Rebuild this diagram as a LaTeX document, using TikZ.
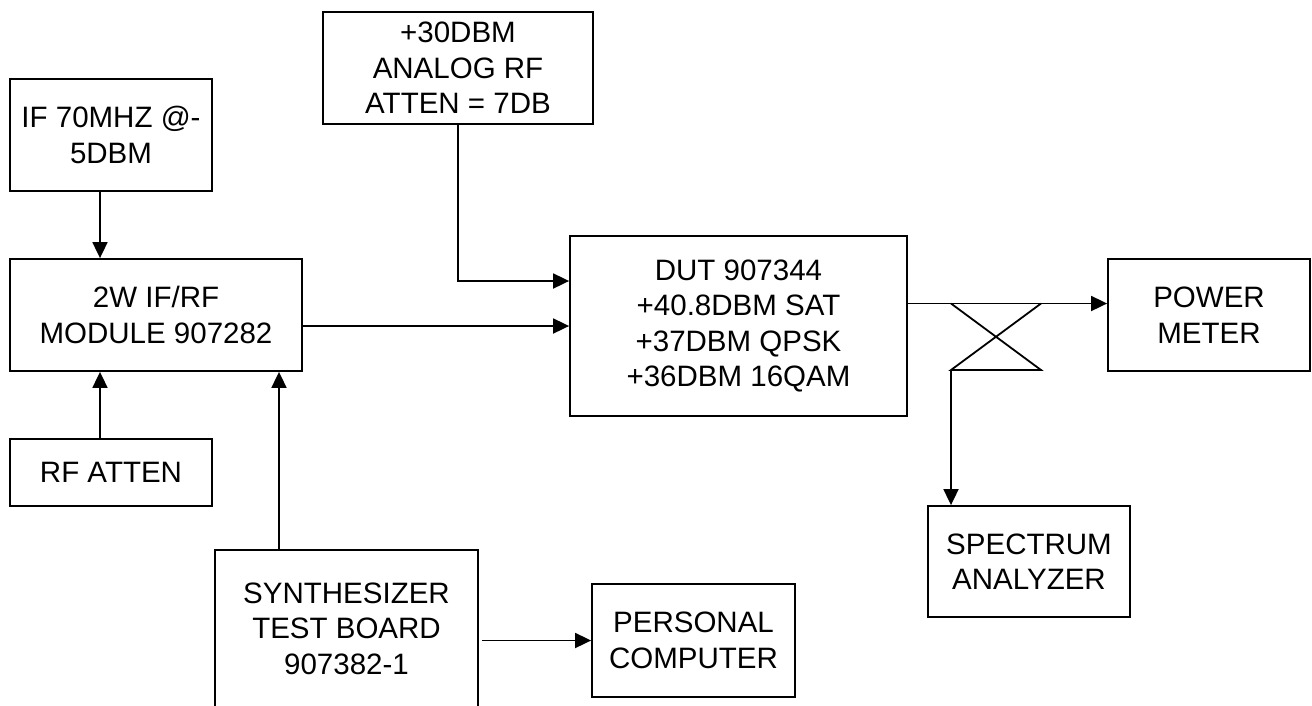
\documentclass[tikz,border=0pt]{standalone}
\usepackage{fontspec}
\setmainfont{Liberation Sans}
\usetikzlibrary{arrows.meta}
\tikzset{
  blk/.style={draw=black, line width=1.8pt, inner sep=0pt, align=center,
    font=\fontsize{29.5}{35.5}\selectfont, anchor=center},
  conn/.style={line width=1.8pt, draw=black},
  arr/.style={conn, -{Triangle[length=16pt,width=15pt]}}
}
\begin{document}
\begin{tikzpicture}[x=1pt,y=-1pt]
\useasboundingbox (0,0) rectangle (1312,705);
\clip (0,0) rectangle (1312,705);
\fill[white] (0,0) rectangle (1312,705);

\node[blk, minimum width=202pt, minimum height=112pt] (if) at (111,135) {IF 70MHZ @-\\5DBM};
\node[blk, minimum width=292pt, minimum height=112pt] (mod) at (156,315) {2W IF/RF\\MODULE 907282};
\node[blk, minimum width=202pt, minimum height=67pt] (rfa) at (111,472.5) {RF ATTEN};
\node[blk, minimum width=270pt, minimum height=112pt] (ana) at (458,68) {+30DBM\\ANALOG RF\\ATTEN = 7DB};
\node[blk, minimum width=337pt, minimum height=180pt] (dut) at (738.5,326) {DUT 907344\\+40.8DBM SAT\\+37DBM QPSK\\+36DBM 16QAM};
\node[blk, minimum width=202pt, minimum height=112pt] (pwr) at (1209,315) {POWER\\METER};
\node[blk, minimum width=202pt, minimum height=111pt] (spec) at (1029,561.5) {SPECTRUM\\ANALYZER};
\node[blk, minimum width=203pt, minimum height=113pt] (pc) at (693.5,640.5) {PERSONAL\\COMPUTER};
\node[blk, minimum width=263pt, minimum height=157pt] (syn) at (346.5,628.5) {SYNTHESIZER\\TEST BOARD\\907382-1};

% coupler corners
\coordinate (c1) at (951,303.5);
\coordinate (c2) at (1041,303.5);
\coordinate (c3) at (951,370);
\coordinate (c4) at (1041,370);

\draw[arr] ([xshift=-11pt]if.south) -- ([xshift=-11pt]if.south |- mod.north);
\draw[arr] ([xshift=-11pt]rfa.north) -- ([xshift=-11pt]rfa.north |- mod.south);
\draw[arr] ([xshift=-67.5pt]syn.north) -- ([xshift=-67.5pt]syn.north |- mod.south);
\draw[arr] ([xshift=3pt]syn.east |- pc.west) -- (pc.west);
\draw[arr] (mod.east |- dut.west) -- (dut.west);
\draw[arr] (ana.south) |- ([yshift=45pt]dut.west);
\draw[arr] (dut.east |- c1) -- (c1) -- (c2) -- (c2 -| pwr.west);
\draw[conn] (c1) -- (c4) -- (c3) -- (c2);
\draw[arr] (c3) -- (c3 |- spec.north);
\end{tikzpicture}
\end{document}
